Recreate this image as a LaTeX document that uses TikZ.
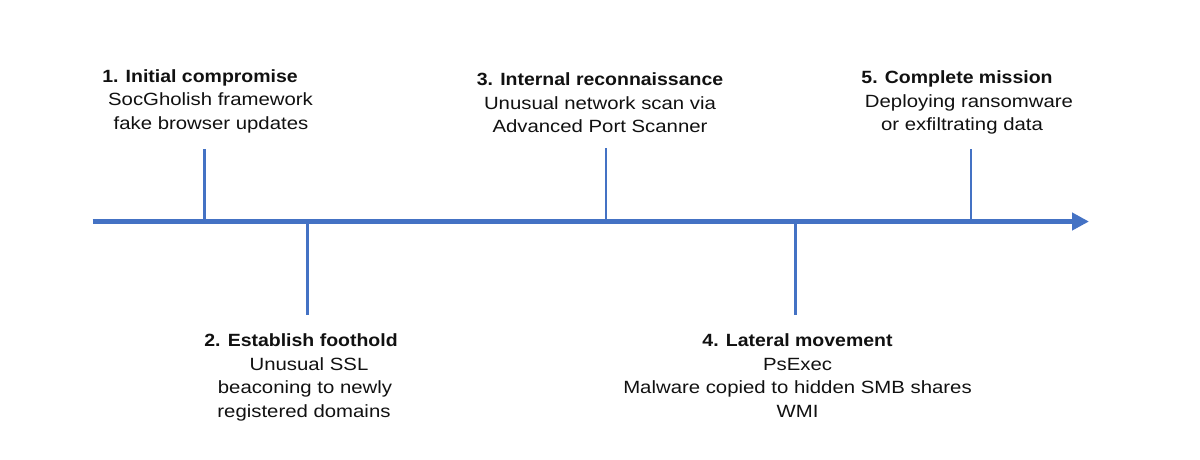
\documentclass[tikz,border=0pt]{standalone}
\usepackage{fontspec}
\newfontfamily\bodyf{Liberation Sans}[FakeStretch=1.15]
\newfontfamily\titlef{Liberation Sans}[FakeStretch=1.10]
\usetikzlibrary{arrows.meta}
\definecolor{axisblue}{HTML}{4472C4}
\definecolor{txt}{HTML}{111111}
\begin{document}
\begin{tikzpicture}[x=1pt,y=-1pt,
  axis/.style={draw=axisblue,line width=4.5pt,-{Triangle[length=17pt,width=17pt]}},
  tick/.style={draw=axisblue,line width=2.6pt},
  ttl/.style={anchor=base,inner sep=0pt,text=txt,font=\titlef\bfseries\fontsize{17.7}{23.5}\selectfont},
  bdy/.style={anchor=base,inner sep=0pt,text=txt,font=\bodyf\fontsize{17.7}{23.5}\selectfont}]
\useasboundingbox (0,0) rectangle (1200,459);
% axis
\coordinate (s) at (92.5,221.5);
\coordinate (e) at (1089,221.5);
\draw[axis] (s) -- (e);
% ticks
\coordinate (b1) at (204.5,221.5); \coordinate (k1) at (204.5,149);
\coordinate (b2) at (307.5,221.5); \coordinate (k2) at (307.5,315);
\coordinate (b3) at (606,221.5);   \coordinate (k3) at (606,148);
\coordinate (b4) at (795.5,221.5); \coordinate (k4) at (795.5,315);
\coordinate (b5) at (971,221.5);   \coordinate (k5) at (971,149);
\draw[tick] (b1) -- (k1);
\draw[tick] (b2) -- (k2);
\draw[tick] (b3) -- (k3);
\draw[tick] (b4) -- (k4);
\draw[tick] (b5) -- (k5);
% block 1
\node[ttl] (t1) at (200,82) {1. Initial compromise};
\node[bdy] (t1a) at (210.5,105.5) {SocGholish framework};
\node[bdy] (t1b) at (211,129) {fake browser updates};
% block 2
\node[ttl] (t2) at (301,346) {2. Establish foothold};
\node[bdy] (t2a) at (309,370) {Unusual SSL};
\node[bdy] (t2b) at (305,393.5) {beaconing to newly};
\node[bdy] (t2c) at (304,417) {registered domains};
% block 3
\node[ttl] (t3) at (600,85.5) {3. Internal reconnaissance};
\node[bdy] (t3a) at (600,109) {Unusual network scan via};
\node[bdy] (t3b) at (600,132.5) {Advanced Port Scanner};
% block 4
\node[ttl] (t4) at (797.5,346) {4. Lateral movement};
\node[bdy] (t4a) at (797.5,370) {PsExec};
\node[bdy] (t4b) at (797.5,393.5) {Malware copied to hidden SMB shares};
\node[bdy] (t4c) at (797.5,417) {WMI};
% block 5
\node[ttl] (t5) at (957,83.5) {5. Complete mission};
\node[bdy] (t5a) at (969,107) {Deploying ransomware};
\node[bdy] (t5b) at (962,130.5) {or exfiltrating data};
\end{tikzpicture}
\end{document}
